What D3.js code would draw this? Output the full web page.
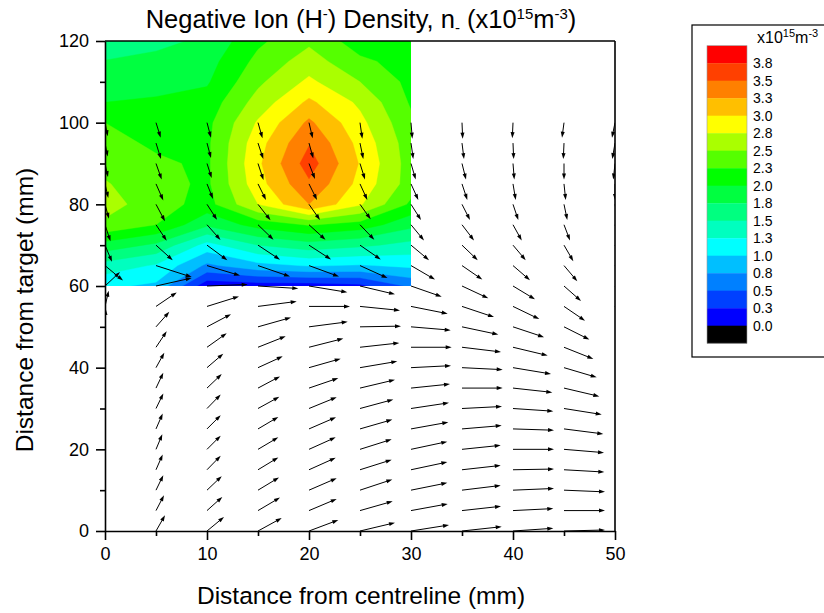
<!DOCTYPE html>
<html>
<head>
<meta charset="utf-8">
<script src="https://cdn.jsdelivr.net/npm/d3@7"></script>
<style>
  body { margin: 0; background: #fff; }
  svg { display: block; }
  text { font-family: "Liberation Sans", Arial, sans-serif; fill: #000; }
</style>
</head>
<body>
<svg id="chart" width="824" height="613"></svg>
<script>
// ---- Negative ion density grid (x10^15 m^-3), rows from y = 60 mm up to 120 mm ----
const densityX = [0, 5, 10, 15, 20, 25, 30];
const densityY = [60, 65, 70, 75, 80, 85, 90, 95, 100, 105, 110, 115, 120];
const n060 = [1.05, 0.95, 0.08, 0.12, 0.12, 0.18, 0.55];
const n065 = [1.40, 1.22, 0.70, 0.92, 1.02, 0.98, 1.05];
const n070 = [1.90, 1.70, 1.15, 1.50, 1.65, 1.55, 1.42];
const n075 = [2.45, 2.25, 1.80, 2.10, 2.27, 2.15, 1.82];
const n080 = [2.60, 2.37, 2.15, 2.75, 3.25, 2.78, 2.20];
const n085 = [2.52, 2.35, 2.20, 2.90, 3.46, 2.92, 2.38];
const n090 = [2.42, 2.30, 2.20, 2.95, 3.62, 2.98, 2.38];
const n095 = [2.35, 2.20, 2.20, 2.90, 3.48, 2.92, 2.36];
const n100 = [2.25, 2.12, 2.18, 2.78, 3.30, 2.82, 2.30];
const n105 = [2.00, 2.03, 2.10, 2.60, 3.05, 2.70, 2.22];
const n110 = [1.88, 1.92, 1.97, 2.45, 2.80, 2.50, 2.18];
const n115 = [1.76, 1.82, 1.90, 2.32, 2.62, 2.30, 2.15];
const n120 = [1.60, 1.68, 1.80, 2.20, 2.45, 2.12, 2.10];
const densityRows = [n060, n065, n070, n075, n080, n085, n090, n095, n100, n105, n110, n115, n120];

// contour levels (lower bound of each band) and band colours
const levels = [0, 0.25, 0.5, 0.75, 1.0, 1.25, 1.5, 1.75, 2.0, 2.25, 2.5, 2.75, 3.0, 3.25, 3.5, 3.75];
const levelColors = ["#0000FF", "#0040FF", "#0080FF", "#00BFFF", "#00FFFF", "#00FFBF", "#00FF80", "#00FF40",
                     "#00FF00", "#55FF00", "#AAFF00", "#FFFF00", "#FFBF00", "#FF8000", "#FF4000", "#FF0000"];
const belowColor = "#000000";
const levelLabels = ["0.0", "0.3", "0.5", "0.8", "1.0", "1.3", "1.5", "1.8", "2.0", "2.3", "2.5", "2.8", "3.0", "3.3", "3.5", "3.8"];

// ---- Ion flow vectors: one array per column x, values for y = 0, 5, ..., 100 mm ----
const flowX = [0, 5, 10, 15, 20, 25, 30, 35, 40, 45, 50];
const flowY = [0, 5, 10, 15, 20, 25, 30, 35, 40, 45, 50, 55, 60, 65, 70, 75, 80, 85, 90, 95, 100];
const flowU = [
  [0, 0, 0, 0, 0, 0, 0, 0, 0, 0, 0.07, 0.37, 1.5, 1.8, 0.7, 0.55, 0.4, 0.33, 0.3, 0.27, 0.27],
  [0.9, 0.8, 0.73, 0.67, 0.63, 0.67, 0.73, 0.73, 0.83, 1.07, 1.33, 2.07, 3.57, 3.57, 1.67, 1.07, 0.9, 0.73, 0.57, 0.5, 0.47],
  [1.7, 1.53, 1.47, 1.37, 1.37, 1.37, 1.37, 1.47, 1.63, 1.97, 2.4, 3.2, 4.07, 3.3, 2.03, 1.35, 1.0, 0.6, 0.47, 0.4, 0.4],
  [2.37, 2.2, 2.1, 2.03, 2.03, 2.03, 2.13, 2.2, 2.47, 2.77, 3.3, 3.87, 4.03, 3.2, 2.2, 1.55, 1.25, 0.8, 0.55, 0.53, 0.45],
  [2.93, 2.77, 2.77, 2.67, 2.67, 2.7, 2.77, 2.93, 3.17, 3.43, 3.87, 4.1, 3.83, 3.0, 2.2, 1.65, 1.1, 0.8, 0.6, 0.43, 0.37],
  [3.5, 3.27, 3.23, 3.17, 3.17, 3.23, 3.33, 3.5, 3.73, 3.93, 4.1, 4.0, 3.5, 2.75, 2.07, 1.43, 1.07, 0.73, 0.5, 0.33, 0.23],
  [3.8, 3.67, 3.63, 3.63, 3.63, 3.73, 3.8, 3.9, 4.0, 4.07, 3.97, 3.67, 3.07, 2.4, 1.8, 1.3, 1.0, 0.73, 0.47, 0.23, 0.13],
  [3.97, 3.9, 3.87, 3.87, 3.87, 3.97, 4.0, 4.07, 4.07, 3.9, 3.63, 3.2, 2.63, 2.03, 1.57, 1.2, 0.8, 0.53, 0.4, 0.2, 0.07],
  [4.03, 4.03, 4.1, 4.1, 4.1, 4.1, 4.03, 3.93, 3.8, 3.47, 3.1, 2.63, 2.2, 1.7, 1.27, 0.87, 0.53, 0.27, 0.13, 0.07, -0.07],
  [4.1, 4.1, 4.1, 4.03, 4.0, 3.93, 3.77, 3.53, 3.27, 2.93, 2.53, 2.1, 1.7, 1.33, 0.93, 0.6, 0.33, 0.17, 0, -0.07, -0.2],
  [3.5, 3.4, 3.3, 3.2, 3.0, 2.8, 2.5, 2.2, 2.0, 1.8, 1.5, 1.2, 1.0, 0.8, 0.6, 0.5, 0.3, 0, -0.17, -0.27, -0.3]
];
const flowV = [
  [0, 0, 0, 0, 0, 0, 0, 0, 0, 0, 1.8, 1.57, 1.4, -1.5, -1.67, -1.65, -1.45, -1.4, -1.35, -1.35, -1.35],
  [1.57, 1.53, 1.5, 1.53, 1.5, 1.53, 1.5, 1.53, 1.5, 1.6, 1.5, 1.4, 0.8, -1.15, -1.5, -1.6, -1.7, -1.65, -1.6, -1.6, -1.5],
  [1.4, 1.37, 1.4, 1.4, 1.37, 1.37, 1.4, 1.4, 1.4, 1.4, 1.27, 1.0, 0.15, -1.0, -1.5, -1.52, -1.55, -1.5, -1.45, -1.5, -1.5],
  [1.3, 1.3, 1.27, 1.23, 1.2, 1.2, 1.17, 1.17, 1.13, 1.1, 0.93, 0.5, -0.25, -1.1, -1.45, -1.5, -1.6, -1.6, -1.65, -1.6, -1.55],
  [1.1, 1.17, 1.2, 1.2, 1.2, 1.17, 1.13, 1.0, 0.9, 0.87, 0.5, 0, -0.63, -1.1, -1.43, -1.5, -1.57, -1.6, -1.55, -1.55, -1.57],
  [0.83, 0.93, 1.07, 1.0, 1.0, 0.93, 0.9, 0.83, 0.63, 0.43, 0.07, -0.4, -0.83, -1.25, -1.43, -1.5, -1.5, -1.6, -1.6, -1.6, -1.6],
  [0.6, 0.67, 0.73, 0.77, 0.77, 0.67, 0.57, 0.4, 0.2, 0, -0.33, -0.73, -1.07, -1.4, -1.5, -1.57, -1.57, -1.6, -1.6, -1.6, -1.6],
  [0.43, 0.43, 0.47, 0.43, 0.4, 0.33, 0.2, 0, -0.2, -0.47, -0.77, -1.07, -1.23, -1.4, -1.5, -1.57, -1.57, -1.6, -1.6, -1.6, -1.6],
  [0.27, 0.2, 0.17, 0.07, 0, -0.13, -0.27, -0.43, -0.63, -0.83, -1.03, -1.27, -1.33, -1.47, -1.5, -1.57, -1.57, -1.6, -1.6, -1.6, -1.55],
  [0.1, 0, -0.17, -0.23, -0.33, -0.5, -0.6, -0.83, -0.97, -1.17, -1.27, -1.43, -1.5, -1.57, -1.6, -1.57, -1.57, -1.6, -1.6, -1.6, -1.5],
  [0, -0.1, -0.2, -0.3, -0.4, -0.6, -0.8, -1.0, -1.2, -1.3, -1.4, -1.5, -1.6, -1.6, -1.6, -1.6, -1.6, -1.6, -1.6, -1.6, -1.5]
];

// axis ticks
const xTicks = [0, 10, 20, 30, 40, 50];
const xMinor = [5, 15, 25, 35, 45];
const yTicks = [0, 20, 40, 60, 80, 100, 120];
const yMinor = [10, 30, 50, 70, 90, 110];

// ---- layout ----
const svg = d3.select("#chart");
const X = d3.scaleLinear().domain([0, 50]).range([105, 615]);
const Y = d3.scaleLinear().domain([0, 120]).range([531, 41]);
const arrowScale = 10;      // pixels per flow unit
const headLen = 6, headHalf = 2;

svg.append("rect").attr("width", 824).attr("height", 613).attr("fill", "#fff");

const defs = svg.append("defs");
defs.append("clipPath").attr("id", "densityClip").append("rect")
  .attr("x", X(densityX[0])).attr("y", Y(densityY[densityY.length - 1]))
  .attr("width", X(densityX[densityX.length - 1]) - X(densityX[0]))
  .attr("height", Y(densityY[0]) - Y(densityY[densityY.length - 1]));
defs.append("clipPath").attr("id", "plotClip").append("rect")
  .attr("x", X(0)).attr("y", Y(120)).attr("width", X(50) - X(0)).attr("height", Y(0) - Y(120));

// ---- filled density contours ----
const nx = densityX.length, ny = densityY.length;
const flat = [];
for (let j = 0; j < ny; j++) for (let i = 0; i < nx; i++) flat.push(densityRows[j][i]);
const stepX = densityX[1] - densityX[0], stepY = densityY[1] - densityY[0];
const gridToScreen = d3.geoTransform({
  point(gx, gy) {
    this.stream.point(X(densityX[0] + (gx - 0.5) * stepX), Y(densityY[0] + (gy - 0.5) * stepY));
  }
});
const contourPath = d3.geoPath(gridToScreen);
const bands = d3.contours().size([nx, ny]).thresholds(levels)(flat);
const gContour = svg.append("g").attr("clip-path", "url(#densityClip)");
gContour.append("rect")
  .attr("x", X(densityX[0])).attr("y", Y(densityY[ny - 1]))
  .attr("width", X(densityX[nx - 1]) - X(densityX[0]))
  .attr("height", Y(densityY[0]) - Y(densityY[ny - 1]))
  .attr("fill", belowColor);
gContour.selectAll("path").data(bands).join("path")
  .attr("d", contourPath)
  .attr("fill", (d, i) => levelColors[i])
  .attr("stroke", (d, i) => levelColors[i])
  .attr("stroke-width", 0.4);

// ---- flow arrows ----
const gArrows = svg.append("g").attr("clip-path", "url(#plotClip)");
flowX.forEach((x, i) => {
  flowY.forEach((y, j) => {
    const u = flowU[i][j], v = flowV[i][j];
    if (u === 0 && v === 0) return;
    const x1 = X(x), y1 = Y(y);
    const x2 = x1 + u * arrowScale, y2 = y1 - v * arrowScale;
    const len = Math.hypot(x2 - x1, y2 - y1);
    const ux = (x2 - x1) / len, uy = (y2 - y1) / len;
    const bx = x2 - ux * headLen, by = y2 - uy * headLen;
    gArrows.append("line")
      .attr("x1", x1).attr("y1", y1).attr("x2", bx + ux * 1).attr("y2", by + uy * 1)
      .attr("stroke", "#000").attr("stroke-width", 1);
    gArrows.append("path")
      .attr("d", `M${x2},${y2}L${bx - uy * headHalf},${by + ux * headHalf}L${bx + uy * headHalf},${by - ux * headHalf}Z`)
      .attr("fill", "#000");
  });
});

// ---- axes and frame ----
const axisColor = "#000";
svg.append("line").attr("x1", X(0)).attr("x2", X(50)).attr("y1", Y(120)).attr("y2", Y(120))
  .attr("stroke", axisColor).attr("stroke-width", 1.6);
svg.append("line").attr("x1", X(50)).attr("x2", X(50)).attr("y1", Y(120)).attr("y2", Y(0))
  .attr("stroke", axisColor).attr("stroke-width", 1.6);

svg.append("g").attr("transform", `translate(0,${Y(0)})`)
  .call(d3.axisBottom(X).tickValues(xTicks).tickSize(9).tickSizeOuter(0).tickPadding(7).tickFormat(d3.format("d")));
svg.append("g").attr("transform", `translate(0,${Y(0)})`)
  .call(d3.axisBottom(X).tickValues(xMinor).tickSize(5).tickSizeOuter(0).tickFormat(""))
  .select(".domain").remove();
svg.append("g").attr("transform", `translate(${X(0)},0)`)
  .call(d3.axisLeft(Y).tickValues(yTicks).tickSize(9).tickSizeOuter(0).tickPadding(7).tickFormat(d3.format("d")));
svg.append("g").attr("transform", `translate(${X(0)},0)`)
  .call(d3.axisLeft(Y).tickValues(yMinor).tickSize(5).tickSizeOuter(0).tickFormat(""))
  .select(".domain").remove();
svg.selectAll(".domain, .tick line").attr("stroke", axisColor).attr("stroke-width", 1.6);
svg.selectAll(".tick text").style("font-size", "18px").style("font-family", "'Liberation Sans', Arial, sans-serif").attr("fill", "#000");

// axis titles
svg.append("text").attr("x", 361).attr("y", 604).attr("text-anchor", "middle")
  .style("font-size", "24.5px").text("Distance from centreline (mm)");
svg.append("text").attr("transform", "translate(33,310) rotate(-90)").attr("text-anchor", "middle")
  .style("font-size", "24.5px").text("Distance from target (mm)");

// title with super/subscripts
const title = svg.append("text").attr("x", 361).attr("y", 28).attr("text-anchor", "middle").style("font-size", "25.5px");
title.append("tspan").text("Negative Ion (H");
title.append("tspan").attr("dy", -9).style("font-size", "15px").text("-");
title.append("tspan").attr("dy", 9).text(") Density, n");
title.append("tspan").attr("dy", 5).style("font-size", "15px").text("-");
title.append("tspan").attr("dy", -5).text(" (x10");
title.append("tspan").attr("dy", -9).style("font-size", "15px").text("15");
title.append("tspan").attr("dy", 9).text("m");
title.append("tspan").attr("dy", -9).style("font-size", "15px").text("-3");
title.append("tspan").attr("dy", 9).text(")");

// ---- colour scale legend ----
const legend = svg.append("g");
legend.append("rect").attr("x", 692).attr("y", 25).attr("width", 140).attr("height", 332)
  .attr("fill", "#fff").attr("stroke", "#000").attr("stroke-width", 1.2);
const legendHead = legend.append("text").attr("x", 757).attr("y", 43).style("font-size", "16px");
legendHead.append("tspan").text("x10");
legendHead.append("tspan").attr("dy", -6).style("font-size", "11px").text("15");
legendHead.append("tspan").attr("dy", 6).text("m");
legendHead.append("tspan").attr("dy", -6).style("font-size", "11px").text("-3");

const swatchTop = 45.7, swatchH = 17.5, swatchX = 707, swatchW = 40;
const legendBlocks = levelColors.slice().reverse().concat([belowColor]);
legend.selectAll("rect.sw").data(legendBlocks).join("rect").attr("class", "sw")
  .attr("x", swatchX).attr("y", (d, i) => swatchTop + i * swatchH)
  .attr("width", swatchW).attr("height", swatchH + 0.3).attr("fill", d => d);
legend.append("rect").attr("x", swatchX).attr("y", swatchTop).attr("width", swatchW)
  .attr("height", swatchH * legendBlocks.length).attr("fill", "none").attr("stroke", "#999").attr("stroke-width", 0.6);
legend.selectAll("text.lab").data(levelLabels.slice().reverse()).join("text").attr("class", "lab")
  .attr("x", 753).attr("y", (d, i) => swatchTop + (i + 1) * swatchH)
  .attr("dy", "0.36em").style("font-size", "14px").text(d => d);
</script>
</body>
</html>
